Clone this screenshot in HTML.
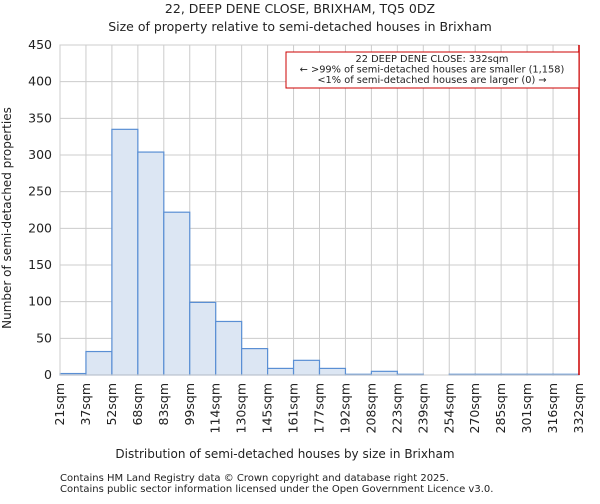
<!DOCTYPE html>
<html><head><meta charset="utf-8"><style>
body{margin:0;background:#fff;font-family:"DejaVu Sans","Liberation Sans",sans-serif}
svg text{font-family:"DejaVu Sans","Liberation Sans",sans-serif;fill:#222}
</style></head><body>
<svg id="c" width="600" height="500">
<text x="300" y="13" text-anchor="middle" font-size="12.5">22, DEEP DENE CLOSE, BRIXHAM, TQ5 0DZ</text>
<text x="300" y="31" text-anchor="middle" font-size="12.5">Size of property relative to semi-detached houses in Brixham</text>
<text x="285" y="458" text-anchor="middle" font-size="12">Distribution of semi-detached houses by size in Brixham</text>
<text transform="translate(11,218) rotate(-90)" text-anchor="middle" font-size="12">Number of semi-detached properties</text>
<text x="60" y="481" font-size="10" fill="#444">Contains HM Land Registry data © Crown copyright and database right 2025.</text>
<text x="60" y="492" font-size="10" fill="#444">Contains public sector information licensed under the Open Government Licence v3.0.</text>
<g id="grid"></g><g id="bars"></g><g id="axes"></g>
</svg>
<script>
const categories=["21sqm","37sqm","52sqm","68sqm","83sqm","99sqm","114sqm","130sqm","145sqm","161sqm","177sqm","192sqm","208sqm","223sqm","239sqm","254sqm","270sqm","285sqm","301sqm","316sqm","332sqm"];
const counts=[2,32,335,304,222,99,73,36,9,20,9,1,5,1,0,1,1,1,1,1];
const yTicks=[0,50,100,150,200,250,300,350,400,450];
const marker=20;
const X0=60,X1=579,Y0=375,Y1=45,YMAX=450;
const bw=(X1-X0)/counts.length;
const xs=i=>X0+i*bw;
const ys=v=>Y0-(v/YMAX)*(Y0-Y1);
const NS="http://www.w3.org/2000/svg";
function mk(p,t,a){const e=document.createElementNS(NS,t);for(const k in a)e.setAttribute(k,a[k]);document.getElementById(p).appendChild(e);return e;}
yTicks.forEach(v=>{
 const l=mk("grid","line",{x1:X0,x2:X1,y1:ys(v),y2:ys(v),stroke:"#ccc"});
 
 
 const t=mk("axes","text",{x:X0-8,y:ys(v)+4,"text-anchor":"end","font-size":"12.5"});
 t.textContent=v;
 
 
});
categories.forEach((c,i)=>{
 const l=mk("grid","line",{x1:xs(i),x2:xs(i),y1:Y1,y2:Y0,stroke:"#ccc"});
 
 
 const t=mk("axes","text",{transform:`translate(${xs(i)+4},${Y0+8}) rotate(-90)`,"text-anchor":"end","font-size":"12.5"});
 t.textContent=c;
 
 
});
counts.forEach((v,i)=>{
 const r=mk("bars","rect",{x:xs(i),y:ys(v),width:bw,height:Y0-ys(v),fill:"#dce6f3",stroke:"#5a8fd4","stroke-width":"1.2"});
 
 
});
const f=mk("axes","rect",{x:X0,y:Y1,width:X1-X0,height:Y0-Y1,fill:"none",stroke:"#ccc"});


const ml=mk("axes","line",{x1:xs(marker),x2:xs(marker),y1:Y1,y2:Y0,stroke:"#c00","stroke-width":"1.5"});


const b=mk("axes","rect",{x:286,y:52,width:xs(marker)-286,height:36,fill:"#fff",stroke:"#c00"});


["22 DEEP DENE CLOSE: 332sqm","← >99% of semi-detached houses are smaller (1,158)","<1% of semi-detached houses are larger (0) →"].forEach((s,k)=>{
 const t=mk("axes","text",{x:432,y:62+k*10.5,"text-anchor":"middle","font-size":"9.8"});
 t.textContent=s;
 
 
});
</script>
</body></html>
